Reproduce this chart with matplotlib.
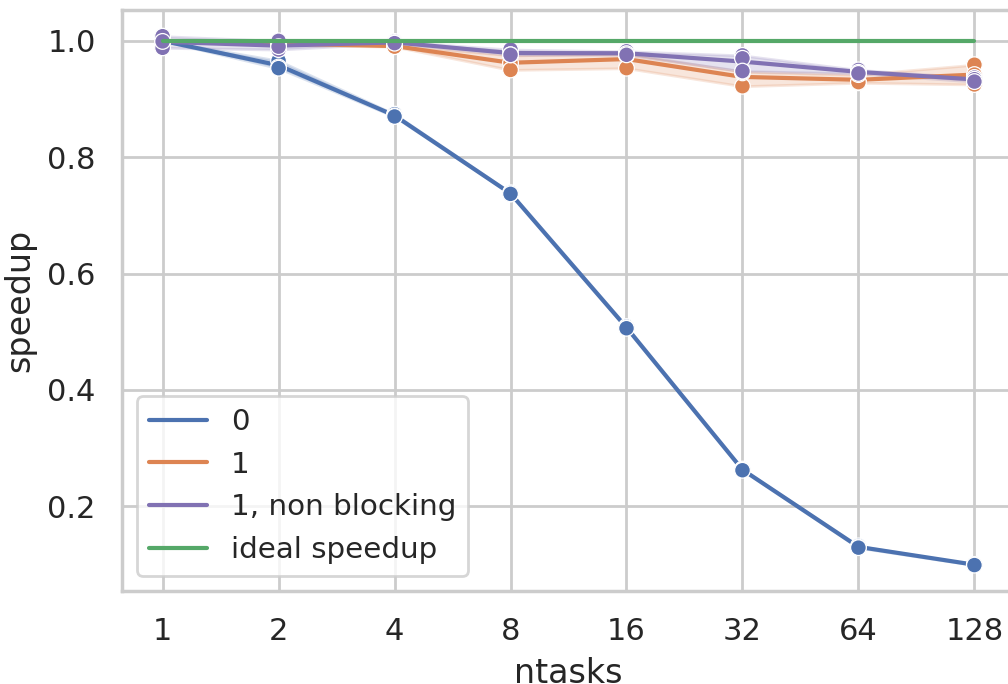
import numpy as np
import pandas as pd
import matplotlib
matplotlib.use("Agg")
import matplotlib.pyplot as plt
import seaborn as sns

ntasks = [1, 2, 4, 8, 16, 32, 64, 128]
series_names = ["0", "1", "1, non blocking"]

# three runs per ntasks value, per series
speedup_0 = [
    [1.000, 1.000, 1.000],
    [0.966, 0.955, 0.953],
    [0.874, 0.871, 0.870],
    [0.739, 0.737, 0.737],
    [0.509, 0.507, 0.506],
    [0.264, 0.263, 0.262],
    [0.132, 0.130, 0.129],
    [0.100, 0.100, 0.099],
]
speedup_1 = [
    [1.000, 1.000, 1.000],
    [0.998, 0.995, 0.993],
    [0.993, 0.990, 0.990],
    [0.975, 0.962, 0.950],
    [0.978, 0.975, 0.953],
    [0.922, 0.945, 0.947],
    [0.928, 0.929, 0.942],
    [0.959, 0.942, 0.925],
]
speedup_1nb = [
    [1.008, 0.988, 0.999],
    [1.000, 0.985, 0.990],
    [0.999, 0.997, 0.996],
    [0.985, 0.976, 0.976],
    [0.982, 0.978, 0.976],
    [0.975, 0.970, 0.948],
    [0.950, 0.946, 0.944],
    [0.937, 0.934, 0.930],
]
ideal = [1.0] * len(ntasks)

colors = {"0": "#4C72B0", "1": "#DD8452", "1, non blocking": "#8172B3"}
ideal_color = "#55A868"

rows = []
for name, vals in zip(series_names, [speedup_0, speedup_1, speedup_1nb]):
    for n, runs in zip(ntasks, vals):
        for v in runs:
            rows.append({"ntasks": n, "speedup": v, "variant": name})
df = pd.DataFrame(rows)

sns.set_theme(style="whitegrid", context="notebook")

fig = plt.figure(figsize=(5.04, 3.42), dpi=200)
ax = fig.add_axes([122 / 1008, 1 - 590.7 / 684, 893 / 1008, (590.7 - 10) / 684])
ax.set_xscale("log", base=2)

sns.lineplot(data=df, x="ntasks", y="speedup", hue="variant",
             hue_order=series_names, palette=colors, errorbar=("ci", 95),
             seed=0, ax=ax)
sns.scatterplot(data=df, x="ntasks", y="speedup", hue="variant",
                hue_order=series_names, palette=colors, legend=False,
                s=32, ax=ax, zorder=3)
ax.plot(ntasks, ideal, color=ideal_color, lw=1.5,
        label="ideal speedup", zorder=4)

ax.set_xticks(ntasks)
ax.set_xticklabels([str(n) for n in ntasks])
ax.xaxis.set_minor_locator(matplotlib.ticker.NullLocator())
ax.set_xlim(2 ** -0.35, 2 ** 7.35)
ax.set_ylim(0.055, 1.053)
ax.set_yticks([0.2, 0.4, 0.6, 0.8, 1.0])
ax.set_xlabel("ntasks")
ax.set_ylabel("speedup")

handles, labels = ax.get_legend_handles_labels()
ax.legend(handles, labels, loc="lower left", title=None, fontsize=10.6)

fig.savefig("out.png", dpi=200)
